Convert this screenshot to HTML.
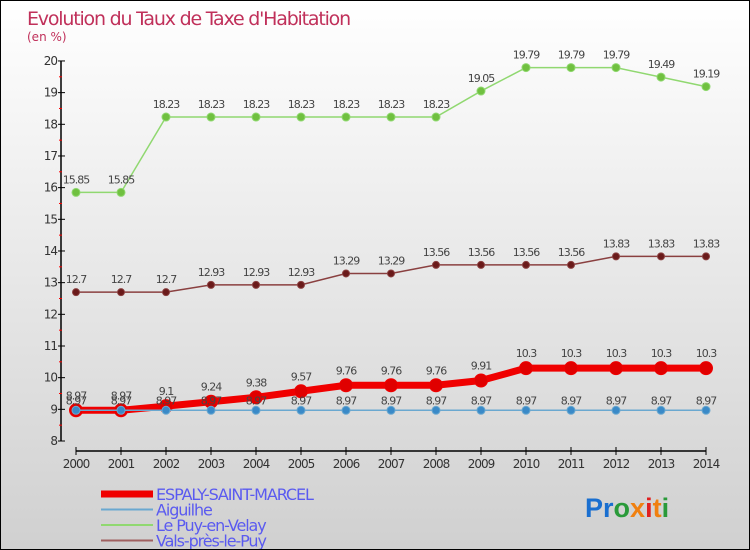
<!DOCTYPE html>
<html><head><meta charset="utf-8"><style>
body{margin:0}
#c{width:750px;height:550px;position:relative;box-sizing:border-box;border:1px solid #000;background:linear-gradient(#ffffff,#d0d0d0);font-family:"DejaVu Sans","Liberation Sans",sans-serif;overflow:hidden}
</style></head><body>
<div id="c">
<svg width="750" height="550" style="position:absolute;left:0;top:0" id="s">
<text x="26" y="24" font-size="19" fill="#c0305a" font-family="DejaVu Sans" letter-spacing="-1.2">Evolution du Taux de Taxe d'Habitation</text>
<text x="26" y="40" font-size="12" fill="#c0305a">(en %)</text>
<g id="axes"></g><g id="series"></g><g id="legend"></g>
<text x="584" y="516" font-size="27" font-family="Liberation Sans" font-weight="bold"><tspan fill="#1a6fd0">Pr</tspan><tspan fill="#2a9a3a">o</tspan><tspan fill="#f08010">x</tspan><tspan fill="#e02020">i</tspan><tspan fill="#f08010">t</tspan><tspan fill="#2a9a3a">i</tspan></text>
</svg>
</div>
<script>
const years=[2000,2001,2002,2003,2004,2005,2006,2007,2008,2009,2010,2011,2012,2013,2014];
const espaly=[8.97,8.97,9.1,9.24,9.38,9.57,9.76,9.76,9.76,9.91,10.3,10.3,10.3,10.3,10.3];
const aiguilhe=[8.97,8.97,8.97,8.97,8.97,8.97,8.97,8.97,8.97,8.97,8.97,8.97,8.97,8.97,8.97];
const lepuy=[15.85,15.85,18.23,18.23,18.23,18.23,18.23,18.23,18.23,19.05,19.79,19.79,19.79,19.49,19.19];
const vals=[12.7,12.7,12.7,12.93,12.93,12.93,13.29,13.29,13.56,13.56,13.56,13.56,13.83,13.83,13.83];
const yTicks=[8,9,10,11,12,13,14,15,16,17,18,19,20];
const NS="http://www.w3.org/2000/svg";
const X=i=>75+i*45, Y=v=>440-(v-8)*31.67;
function mk(p,t,a){const e=document.createElementNS(NS,t);for(const k in a)e.setAttribute(k,a[k]);p.appendChild(e);return e;}
const ax=document.getElementById('axes');
let e=mk(ax,'line',{x1:60,y1:60,x2:60,y2:440,stroke:'#000','stroke-width':1.5});

e=mk(ax,'line',{x1:75,y1:450,x2:705,y2:450,stroke:'#000','stroke-width':1.5});

yTicks.forEach(v=>{mk(ax,'line',{x1:57,y1:Y(v),x2:64,y2:Y(v),stroke:'#000'});
 if(v<20)mk(ax,'line',{x1:58,y1:Y(v+0.5),x2:61,y2:Y(v+0.5),stroke:'#f00'});
 const t=mk(ax,'text',{x:56,y:Y(v)+4,'font-size':12,fill:'#333','text-anchor':'end','letter-spacing':-1});t.textContent=v;
 });
years.forEach((y,i)=>{mk(ax,'line',{x1:X(i),y1:446,x2:X(i),y2:454,stroke:'#000'});
 const t=mk(ax,'text',{x:X(i),y:467,'font-size':12,fill:'#333','text-anchor':'middle','letter-spacing':-1});t.textContent=y;
 });
const sg=document.getElementById('series');
function draw(name,data,color,lw,r,dot,lblOff){
 const g=mk(sg,'g',{});
 mk(g,'polyline',{points:data.map((v,i)=>X(i)+','+Y(v)).join(' '),fill:'none',stroke:color,'stroke-width':lw});
 data.forEach((v,i)=>{const c=mk(g,'circle',{cx:X(i),cy:Y(v),r:r,fill:dot,stroke:color,'stroke-width':1});
  
  const t=mk(g,'text',{x:X(i),y:Y(v)+lblOff,'font-size':11,fill:'#444','text-anchor':'middle','letter-spacing':-1});t.textContent=v;
  });
}
draw('le-puy-en-velay',lepuy,'#90d870',1.5,4,'#70c040',-9);
draw('vals-pres-le-puy',vals,'#8a4040',1.5,3.5,'#6a1a1a',-9);
draw('espaly-saint-marcel',espaly,'#f00000',7,6.5,'#e00000',-11);
draw('aiguilhe',aiguilhe,'#6aa8d0',1.5,4,'#3a8ac8',-6);
const lg=document.getElementById('legend');
const L=[['ESPALY-SAINT-MARCEL','#f00000',7],['Aiguilhe','#6aa8d0',2],['Le Puy-en-Velay','#90d870',2],['Vals-près-le-Puy','#a06060',2]];
L.forEach((l,i)=>{const y=493+i*15.5;const g=mk(lg,'g',{});
 mk(g,'line',{x1:100,y1:y,x2:152,y2:y,stroke:l[1],'stroke-width':l[2]});
 const t=mk(g,'text',{x:155,y:y+6,'font-size':16,fill:'#5a5af0','letter-spacing':-1.1});t.textContent=l[0];});
</script>
</body></html>
